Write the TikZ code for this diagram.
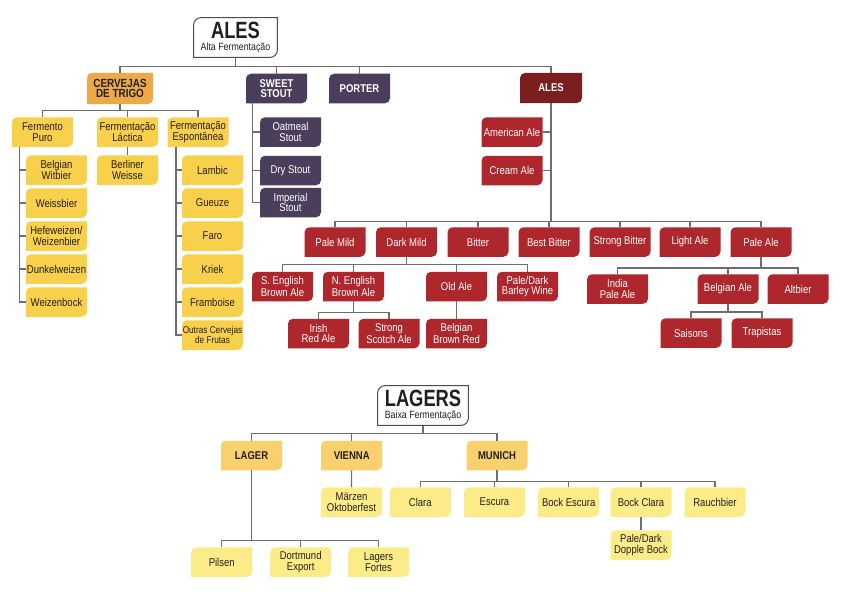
\documentclass[tikz,border=0pt]{standalone}
\usepackage{fontspec}
\setmainfont{Liberation Sans}[FakeStretch=0.84]
\newfontfamily\titlefont{Liberation Sans}[FakeStretch=0.78]
\definecolor{wheat}{HTML}{F9D04B}
\definecolor{wheatcat}{HTML}{EEA947}
\definecolor{purp}{HTML}{4A3E5C}
\definecolor{darkred}{HTML}{7B1E1E}
\definecolor{redbox}{HTML}{AD272C}
\definecolor{lagercat}{HTML}{F9D06E}
\definecolor{lagerleaf}{HTML}{FCEC88}
\definecolor{linegray}{HTML}{6E6E6E}
\definecolor{txt}{HTML}{231F20}
\definecolor{titleborder}{HTML}{4D4D4D}
\tikzset{
  conn/.style={draw=linegray, line width=1.1pt},
  leaf/.style={shape=rectangle, minimum width=61pt, minimum height=29.5pt, inner sep=0pt,
    align=center, font=\fontsize{11.3}{10.5}\selectfont,
    path picture={\fill[#1] (path picture bounding box.south west)
      -- ([yshift=-5pt]path picture bounding box.north west)
      arc[start angle=180,end angle=90,radius=5pt]
      -- (path picture bounding box.north east)
      -- ([yshift=5pt]path picture bounding box.south east)
      arc[start angle=0,end angle=-90,radius=5pt] -- cycle;}},
  titlebox/.style={shape=rectangle, inner sep=0pt, align=center, text=txt,
    font=\fontsize{10.5}{12.5}\selectfont,
    path picture={\filldraw[fill=white,draw=titleborder,line width=1pt]
      ([shift={(.6pt,.6pt)}]path picture bounding box.south west)
      -- ([shift={(.6pt,-8pt)}]path picture bounding box.north west)
      arc[start angle=180,end angle=90,radius=7.4pt]
      -- ([shift={(-.6pt,-.6pt)}]path picture bounding box.north east)
      -- ([shift={(-.6pt,8pt)}]path picture bounding box.south east)
      arc[start angle=0,end angle=-90,radius=7.4pt] -- cycle;}},
  yel/.style={leaf=wheat, text=txt},
  org/.style={leaf=wheatcat, text=txt, font=\fontsize{11.8}{10.5}\selectfont\bfseries},
  pur/.style={leaf=purp, text=white},
  purb/.style={leaf=purp, text=white, font=\fontsize{11.3}{10.5}\selectfont\bfseries},
  drd/.style={leaf=darkred, text=white, font=\fontsize{11.3}{10.5}\selectfont\bfseries},
  rbox/.style={leaf=redbox, text=white},
  lcat/.style={leaf=lagercat, text=txt, font=\fontsize{11.3}{10.5}\selectfont\bfseries},
  lleaf/.style={leaf=lagerleaf, text=txt},
}
\begin{document}
\begin{tikzpicture}[x=1pt,y=-1pt]
\useasboundingbox (0,0) rectangle (843,610);
% ---------------- ALES ----------------
\node[titlebox, minimum width=85pt, minimum height=41pt] (ales) at (235.5,37.5)
  {{\titlefont\bfseries\fontsize{23.5}{20}\selectfont ALES}\\Alta Fermentação};
\node[org, minimum width=66pt, minimum height=31pt] (trigo) at (120,88.5) {CERVEJAS\\DE TRIGO};
\node[purb] (sweet) at (276.5,88.5) {SWEET\\STOUT};
\node[purb] (porter) at (359.5,88.5) {PORTER};
\node[drd, minimum width=62pt, minimum height=30pt] (alesr) at (551,88) {ALES};
% wheat
\node[yel] (fp) at (42.5,132) {Fermento\\Puro};
\node[yel] (fl) at (127.5,132) {Fermentação\\Láctica};
\node[yel] (fe) at (198,132) {Fermentação\\Espontânea};
\node[yel] (bwit) at (56.5,170) {Belgian\\Witbier};
\node[yel] (weiss) at (56.5,203) {Weissbier};
\node[yel] (hefe) at (56.5,236) {Hefeweizen/\\Weizenbier};
\node[yel] (dunkel) at (56.5,269) {Dunkelweizen};
\node[yel] (wbock) at (56.5,302) {Weizenbock};
\node[yel] (berl) at (127.5,170) {Berliner\\Weisse};
\node[yel] (lambic) at (212.5,170) {Lambic};
\node[yel] (gueuze) at (212.5,203) {Gueuze};
\node[yel] (faro) at (212.5,236) {Faro};
\node[yel] (kriek) at (212.5,269) {Kriek};
\node[yel] (framb) at (212.5,302) {Framboise};
\node[yel, font=\fontsize{9.8}{9.5}\selectfont] (outras) at (212.5,335) {Outras Cervejas\\de Frutas};
% stouts
\node[pur] (oat) at (290.5,132) {Oatmeal\\Stout};
\node[pur] (dry) at (290.5,170.5) {Dry Stout};
\node[pur] (imp) at (290.5,202.5) {Imperial\\Stout};
% red ales
\node[rbox] (amer) at (512,132) {American Ale};
\node[rbox] (cream) at (512,170.5) {Cream Ale};
\node[rbox] (pmild) at (335,242) {Pale Mild};
\node[rbox] (dmild) at (406.5,242) {Dark Mild};
\node[rbox] (bitter) at (478,242) {Bitter};
\node[rbox] (bbitter) at (549,242) {Best Bitter};
\node[rbox] (sbitter) at (620,242) {Strong Bitter};
\node[rbox] (light) at (690,242) {Light Ale};
\node[rbox] (pale) at (761,242) {Pale Ale};
\node[rbox] (seng) at (282.5,286.5) {S. English\\Brown Ale};
\node[rbox] (neng) at (353.5,286.5) {N. English\\Brown Ale};
\node[rbox] (old) at (456.5,286.5) {Old Ale};
\node[rbox] (barley) at (527.5,286.5) {Pale/Dark\\Barley Wine};
\node[rbox] (irish) at (318.5,333.5) {Irish\\Red Ale};
\node[rbox] (scotch) at (389,333.5) {Strong\\Scotch Ale};
\node[rbox] (bbred) at (456.5,333.5) {Belgian\\Brown Red};
\node[rbox] (ipa) at (617.5,289) {India\\Pale Ale};
\node[rbox] (belg) at (728,289) {Belgian Ale};
\node[rbox] (alt) at (798,289) {Altbier};
\node[rbox] (sais) at (691,333) {Saisons};
\node[rbox] (trap) at (762,333) {Trapistas};
% ---------------- LAGERS ----------------
\node[titlebox, minimum width=92pt, minimum height=41pt] (lagers) at (423,405.5)
  {{\titlefont\bfseries\fontsize{23.5}{20}\selectfont LAGERS}\\Baixa Fermentação};
\node[lcat] (lager) at (251.5,455.5) {LAGER};
\node[lcat] (vienna) at (351.7,455.5) {VIENNA};
\node[lcat] (munich) at (497,455.5) {MUNICH};
\node[lleaf] (marzen) at (351.5,502) {Märzen\\Oktoberfest};
\node[lleaf] (clara) at (420.3,502) {Clara};
\node[lleaf] (escura) at (494.5,502) {Escura};
\node[lleaf] (bockesc) at (568.7,502) {Bock Escura};
\node[lleaf] (bockcl) at (641,502) {Bock Clara};
\node[lleaf] (rauch) at (715,502) {Rauchbier};
\node[lleaf] (dopple) at (641,545) {Pale/Dark\\Dopple Bock};
\node[lleaf] (pilsen) at (221.7,562) {Pilsen};
\node[lleaf] (dort) at (300.7,562) {Dortmund\\Export};
\node[lleaf] (fortes) at (378.5,562) {Lagers\\Fortes};
% ---------------- connectors ----------------
\foreach \c in {trigo,sweet,porter,alesr} \draw[conn] (ales.south) -- ++(0,8.5) -| (\c.north);
\foreach \c in {fp,fl,fe} \draw[conn] (trigo.south) -- ++(0,6) -| (\c.north);
\foreach \c in {bwit,weiss,hefe,dunkel,wbock} \draw[conn] ([xshift=8pt]fp.south west) |- (\c.west);
\draw[conn] (fl.south) -- (berl.north);
\foreach \c in {lambic,gueuze,faro,kriek,framb,outras} \draw[conn] ([xshift=8.7pt]fe.south west) |- (\c.west);
\foreach \c in {oat,dry,imp} \draw[conn] ([xshift=6.7pt]sweet.south west) |- (\c.west);
\foreach \c in {pmild,dmild,bitter,bbitter,sbitter,light,pale} \draw[conn] (alesr.south) -- ++(0,118) -| (\c.north);
\foreach \c in {amer,cream} \draw[conn] (\c.east) -- (\c.east -| alesr.south);
\foreach \c in {seng,neng,old,barley} \draw[conn] (dmild.south) -- ++(0,7.25) -| (\c.north);
\foreach \c in {irish,scotch} \draw[conn] (neng.south) -- ++(0,10.75) -| (\c.north);
\draw[conn] (old.south) -- (bbred.north);
\foreach \c in {ipa,belg,alt} \draw[conn] (pale.south) -- ++(0,11) -| (\c.north);
\foreach \c in {sais,trap} \draw[conn] (belg.south) -- ++(0,8) -| (\c.north);
\foreach \c in {lager,vienna,munich} \draw[conn] (lagers.south) -- ++(0,7) -| (\c.north);
\draw[conn] (vienna.south) -- (marzen.north);
\foreach \c in {pilsen,dort,fortes} \draw[conn] (lager.south) -- ++(0,69.75) -| (\c.north);
\foreach \c in {clara,escura,bockesc,bockcl,rauch} \draw[conn] (munich.south) -- ++(0,10.75) -| (\c.north);
\draw[conn] (bockcl.south) -- (dopple.north);
\end{tikzpicture}
\end{document}
